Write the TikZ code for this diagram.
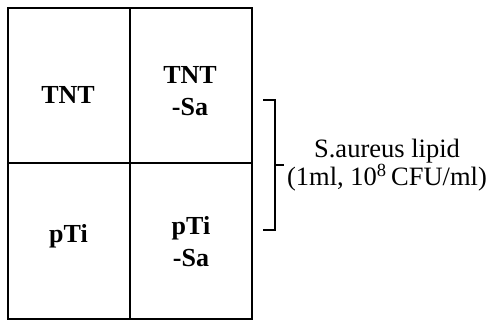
\documentclass[tikz,border=0pt]{standalone}
\usepackage{fontspec}
\setmainfont{Liberation Serif}
\begin{document}
\begin{tikzpicture}[x=1pt,y=1pt,
  cell/.style={draw=black, line width=2.2pt, minimum width=122pt, minimum height=155.5pt, inner sep=0pt},
  lab/.style={align=center, inner sep=0pt, anchor=base, font=\fontsize{26}{31.5}\selectfont\bfseries},
  brk/.style={draw=black, line width=2.2pt},
  note/.style={align=center, inner sep=0pt, anchor=base, font=\fontsize{26.5}{23.5}\selectfont}]
\useasboundingbox (0,0) rectangle (490,323);
\fill[white] (0,0) rectangle (490,323);
\node[cell] (tnt) at (69,237.5) {};
\node[cell] (tntsa) at (191,237.5) {};
\node[cell] (pti) at (69,82) {};
\node[cell] (ptisa) at (191,82) {};
\node[lab] (ltnt) at (68,219) {TNT};
\node[lab] (ltntsa) at (190,207.5) {TNT\\-Sa};
\node[lab] (lpti) at (68.5,80) {pTi};
\node[lab] (lptisa) at (191,56.5) {pTi\\-Sa};
\coordinate (bt) at (263,223);
\coordinate (bb) at (263,93);
\coordinate (bm) at (275,158);
\coordinate (bmr) at (284,158);
\draw[brk] (bt) -| (bm) |- (bb);
\draw[brk] (bm) -- (bmr);
\node[note] (lbl) at (387,137.5) {S.aureus lipid\\(1ml, 10\textsuperscript{8}\,CFU/ml)};
\end{tikzpicture}
\end{document}
